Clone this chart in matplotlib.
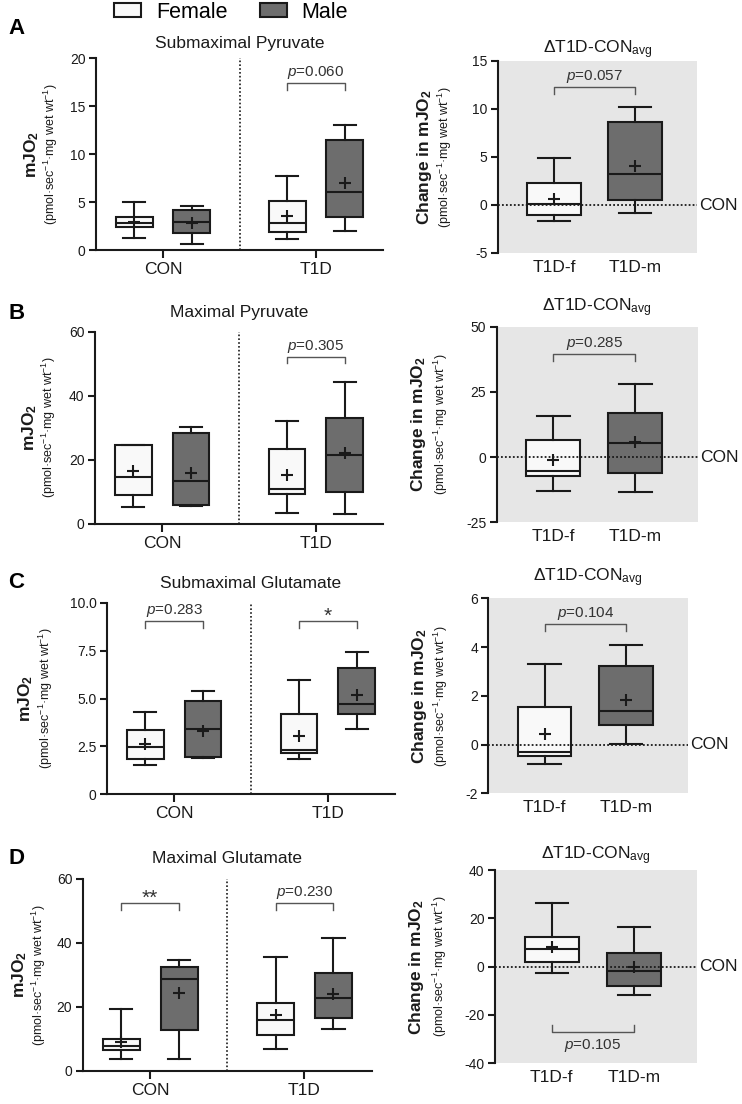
import matplotlib
matplotlib.use("Agg")
import matplotlib.pyplot as plt
from matplotlib.patches import Patch
from matplotlib import transforms as mtransforms

plt.rcParams["font.family"] = ["Liberation Sans", "DejaVu Sans"]
plt.rcParams["mathtext.fontset"] = "custom"
plt.rcParams["mathtext.rm"] = "Liberation Sans"
plt.rcParams["mathtext.it"] = "Liberation Sans:italic"
plt.rcParams["mathtext.bf"] = "Liberation Sans:bold"
plt.rcParams["axes.unicode_minus"] = False

# ---- data ----
groups = ["CON", "T1D"]
delta_groups = ["T1D-f", "T1D-m"]
titles = ["Submaximal Pyruvate", "Maximal Pyruvate", "Submaximal Glutamate", "Maximal Glutamate"]
delta_title = "ΔT1D-CON$_{\\mathrm{avg}}$"

# each box: low whisker, Q1, median, Q3, high whisker, mean
subpyr_female = [[1.28, 2.36, 2.77, 3.40, 4.96, 2.88], [1.15, 1.84, 2.85, 5.14, 7.74, 3.54]]
subpyr_male = [[0.62, 1.80, 2.95, 4.16, 4.54, 2.84], [1.98, 3.40, 6.08, 11.46, 13.0, 6.94]]
subpyr_delta = [[-1.7, -1.0, 0.06, 2.25, 4.9, 0.6], [-0.85, 0.55, 3.25, 8.6, 10.2, 4.1]]

maxpyr_female = [[5.1, 9.0, 14.6, 24.5, 24.5, 16.5], [3.25, 9.3, 10.9, 23.4, 32.1, 15.2]]
maxpyr_male = [[5.5, 5.8, 13.5, 28.3, 30.2, 16.0], [2.9, 9.8, 21.5, 33.1, 44.2, 22.0]]
maxpyr_delta = [[-13.1, -7.1, -5.3, 6.7, 15.6, -1.2], [-13.4, -6.1, 5.3, 16.9, 28.1, 5.7]]

subglu_female = [[1.53, 1.86, 2.46, 3.35, 4.30, 2.65], [1.86, 2.14, 2.32, 4.18, 5.97, 3.06]]
subglu_male = [[1.90, 1.93, 3.43, 4.90, 5.38, 3.33], [3.40, 4.20, 4.74, 6.59, 7.45, 5.17]]
subglu_delta = [[-0.80, -0.48, -0.32, 1.53, 3.31, 0.43], [0.01, 0.82, 1.38, 3.24, 4.07, 1.81]]

maxglu_female = [[3.6, 6.65, 7.8, 10.0, 19.4, 9.0], [6.8, 11.2, 15.9, 21.3, 35.5, 17.4]]
maxglu_male = [[3.85, 12.8, 28.7, 32.6, 34.5, 24.4], [13.0, 16.4, 22.7, 30.5, 41.4, 24.0]]
maxglu_delta = [[-2.5, 1.9, 7.2, 12.3, 26.5, 8.3], [-11.7, -8.1, -1.9, 5.7, 16.6, -0.3]]

# significance labels (None = no bracket)
subpyr_sig = [None, "$\\mathit{p}$=0.060"]
maxpyr_sig = [None, "$\\mathit{p}$=0.305"]
subglu_sig = ["$\\mathit{p}$=0.283", "*"]
maxglu_sig = ["**", "$\\mathit{p}$=0.230"]
delta_sig = ["$\\mathit{p}$=0.057", "$\\mathit{p}$=0.285", "$\\mathit{p}$=0.104", "$\\mathit{p}$=0.105"]

# ---- layout ----
W, H = 742, 1104
panels = [
    dict(letter="A", female=subpyr_female, male=subpyr_male, delta=subpyr_delta, sig=subpyr_sig,
         lrect=(96, 383, 58, 250), rrect=(498, 697, 61, 253),
         lylim=(0, 20), lyt=[0, 5, 10, 15, 20], lytl=["0", "5", "10", "15", "20"],
         ryl=(-5, 15), ryt=[-5, 0, 5, 10, 15],
         lbr=17.36, rbr=12.3, lpad=7, rpad=5.8, lab=(-64, -45), rlab=(-74, -53), letter_y=34),
    dict(letter="B", female=maxpyr_female, male=maxpyr_male, delta=maxpyr_delta, sig=maxpyr_sig,
         lrect=(95, 383, 331.7, 523.7), rrect=(496.7, 697.7, 326.7, 522.3),
         lylim=(0, 60), lyt=[0, 20, 40, 60], lytl=["0", "20", "40", "60"],
         ryl=(-25, 50), ryt=[-25, 0, 25, 50],
         lbr=52.2, rbr=39.5, lpad=10.8, rpad=10.8, lab=(-65, -46), rlab=(-78, -56), letter_y=319),
    dict(letter="C", female=subglu_female, male=subglu_male, delta=subglu_delta, sig=subglu_sig,
         lrect=(107, 395, 603, 794.3), rrect=(488.3, 688, 598.3, 793.3),
         lylim=(0, 10), lyt=[0, 2.5, 5, 7.5, 10], lytl=["0", "2.5", "5.0", "7.5", "10.0"],
         ryl=(-2, 6), ryt=[-2, 0, 2, 4, 6],
         lbr=9.04, rbr=4.93, lpad=10.8, rpad=12, lab=(-81, -61), rlab=(-69, -47), letter_y=588),
    dict(letter="D", female=maxglu_female, male=maxglu_male, delta=maxglu_delta, sig=maxglu_sig,
         lrect=(82.7, 372, 878.7, 1071), rrect=(495, 696.7, 870, 1063.3),
         lylim=(0, 60), lyt=[0, 20, 40, 60], lytl=["0", "20", "40", "60"],
         ryl=(-40, 40), ryt=[-40, -20, 0, 20, 40],
         lbr=52.3, rbr=-26.9, lpad=11.3, rpad=8, lab=(-63, -44), rlab=(-79, -55), letter_y=864),
]

ink = "#1a1a1a"
female_fc = "#f9f9f9"
male_fc = "#6d6d6d"
bg = "#e6e6e6"
lw = 1.5


def rect(r):
    x0, x1, y0, y1 = r
    return [x0 / W, 1 - y1 / H, (x1 - x0) / W, (y1 - y0) / H]


def stats(rows):
    return [dict(whislo=r[0], q1=r[1], med=r[2], q3=r[3], whishi=r[4], mean=r[5], fliers=[]) for r in rows]


def boxes(ax, rows, pos, width, fc):
    ax.bxp(stats(rows), positions=pos, widths=width, capwidths=width * 0.6,
           patch_artist=True, showmeans=True, showfliers=False, manage_ticks=False,
           boxprops=dict(facecolor=fc, edgecolor=ink, linewidth=lw),
           whiskerprops=dict(color=ink, linewidth=lw),
           capprops=dict(color=ink, linewidth=lw),
           medianprops=dict(color=ink, linewidth=lw),
           meanprops=dict(marker="+", markeredgecolor=ink, markersize=8, markeredgewidth=1.5))


def bracket(ax, x0, x1, h, label, span):
    d = 0.035 * span
    if h > 0:
        ax.plot([x0, x0, x1, x1], [h - d, h, h, h - d], color="#555555", lw=1)
        if label.startswith("*"):
            ax.annotate(label, ((x0 + x1) / 2, h), xytext=(0, 0), textcoords="offset points",
                        ha="center", va="baseline", fontsize=15, color="#333333")
        else:
            ax.annotate(label, ((x0 + x1) / 2, h), xytext=(0, 5), textcoords="offset points",
                        ha="center", va="baseline", fontsize=11, color="#333333")
    else:
        ax.plot([x0, x0, x1, x1], [h + d, h, h, h + d], color="#555555", lw=1)
        ax.annotate(label, ((x0 + x1) / 2, h), xytext=(0, -4), textcoords="offset points",
                    ha="center", va="top", fontsize=11, color="#333333")


def ylabels(ax, fig, offs, bold):
    t1 = mtransforms.offset_copy(ax.transAxes, fig=fig, x=offs[0], y=0, units="dots")
    t2 = mtransforms.offset_copy(ax.transAxes, fig=fig, x=offs[1], y=0, units="dots")
    ax.text(0, 0.5, bold, transform=t1, rotation=90, ha="center", va="center",
            fontsize=12.5, fontweight="bold", color=ink)
    ax.text(0, 0.5, "(pmol·sec$^{-1}$·mg wet wt$^{-1}$)", transform=t2, rotation=90,
            ha="center", va="center", fontsize=9, color=ink)


fig = plt.figure(figsize=(W / 100, H / 100), dpi=100)

for i, p in enumerate(panels):
    # left: female / male boxes per group
    ax = fig.add_axes(rect(p["lrect"]))
    gpos = [1, 3]
    off, wd = 0.375, 0.48
    boxes(ax, p["female"], [g - off for g in gpos], wd, female_fc)
    boxes(ax, p["male"], [g + off for g in gpos], wd, male_fc)
    ax.axvline(2, color=ink, lw=1.2, ls=(0, (1, 1.3)), zorder=1)
    ax.set_xlim(0.125, 3.875)
    ax.set_ylim(*p["lylim"])
    ax.set_yticks(p["lyt"], p["lytl"])
    ax.set_xticks(gpos, groups)
    for s in ["top", "right"]:
        ax.spines[s].set_visible(False)
    for s in ["left", "bottom"]:
        ax.spines[s].set_linewidth(lw)
        ax.spines[s].set_color(ink)
    ax.tick_params(axis="y", labelsize=10, length=5, width=lw, pad=2.5, colors=ink)
    ax.tick_params(axis="x", labelsize=12.5, length=5.5, width=lw, pad=3, colors=ink)
    span = p["lylim"][1] - p["lylim"][0]
    for g, lab in zip(gpos, p["sig"]):
        if lab:
            bracket(ax, g - off, g + off, p["lbr"], lab, span)
    ax.set_title(titles[i], fontsize=12.5, pad=p["lpad"], color=ink)
    ylabels(ax, fig, p["lab"], "mJO$_\\mathbf{2}$")
    fig.text(8 / W, 1 - p["letter_y"] / H, p["letter"], fontsize=16, fontweight="bold", va="baseline")

    # right: change from CON average
    ax = fig.add_axes(rect(p["rrect"]))
    ax.set_facecolor(bg)
    boxes(ax, [p["delta"][0]], [1], 0.66, female_fc)
    boxes(ax, [p["delta"][1]], [2], 0.66, male_fc)
    ax.axhline(0, color=ink, lw=1.3, ls=(0, (1, 1.2)), zorder=3)
    ax.set_xlim(0.31, 2.76)
    ax.set_ylim(*p["ryl"])
    ax.set_yticks(p["ryt"])
    ax.set_xticks([1, 2], delta_groups)
    for s in ["top", "right", "bottom"]:
        ax.spines[s].set_visible(False)
    ax.spines["left"].set_linewidth(lw)
    ax.spines["left"].set_color(ink)
    ax.tick_params(axis="y", labelsize=10, length=5, width=lw, pad=2.5, colors=ink)
    ax.tick_params(axis="x", labelsize=12.5, length=0, pad=5, colors=ink)
    span = p["ryl"][1] - p["ryl"][0]
    bracket(ax, 1, 2, p["rbr"], delta_sig[i], span)
    ax.set_title(delta_title, fontsize=12.5, pad=p["rpad"], color=ink)
    ylabels(ax, fig, p["rlab"], "Change in mJO$_\\mathbf{2}$")
    tr = mtransforms.blended_transform_factory(ax.transAxes, ax.transData)
    ax.text(1.01, 0, "CON", transform=tr, ha="left", va="center", fontsize=12.5, color=ink)

handles = [Patch(facecolor=female_fc, edgecolor=ink, linewidth=lw),
           Patch(facecolor=male_fc, edgecolor=ink, linewidth=lw)]
fig.legend(handles, ["Female", "Male"], loc="center", bbox_to_anchor=(231 / W, 1 - 12 / H),
           ncol=2, frameon=False, fontsize=15.5, handlelength=1.25, handleheight=0.65,
           handletextpad=0.7, columnspacing=1.5)

fig.savefig("out.png", dpi=100)
